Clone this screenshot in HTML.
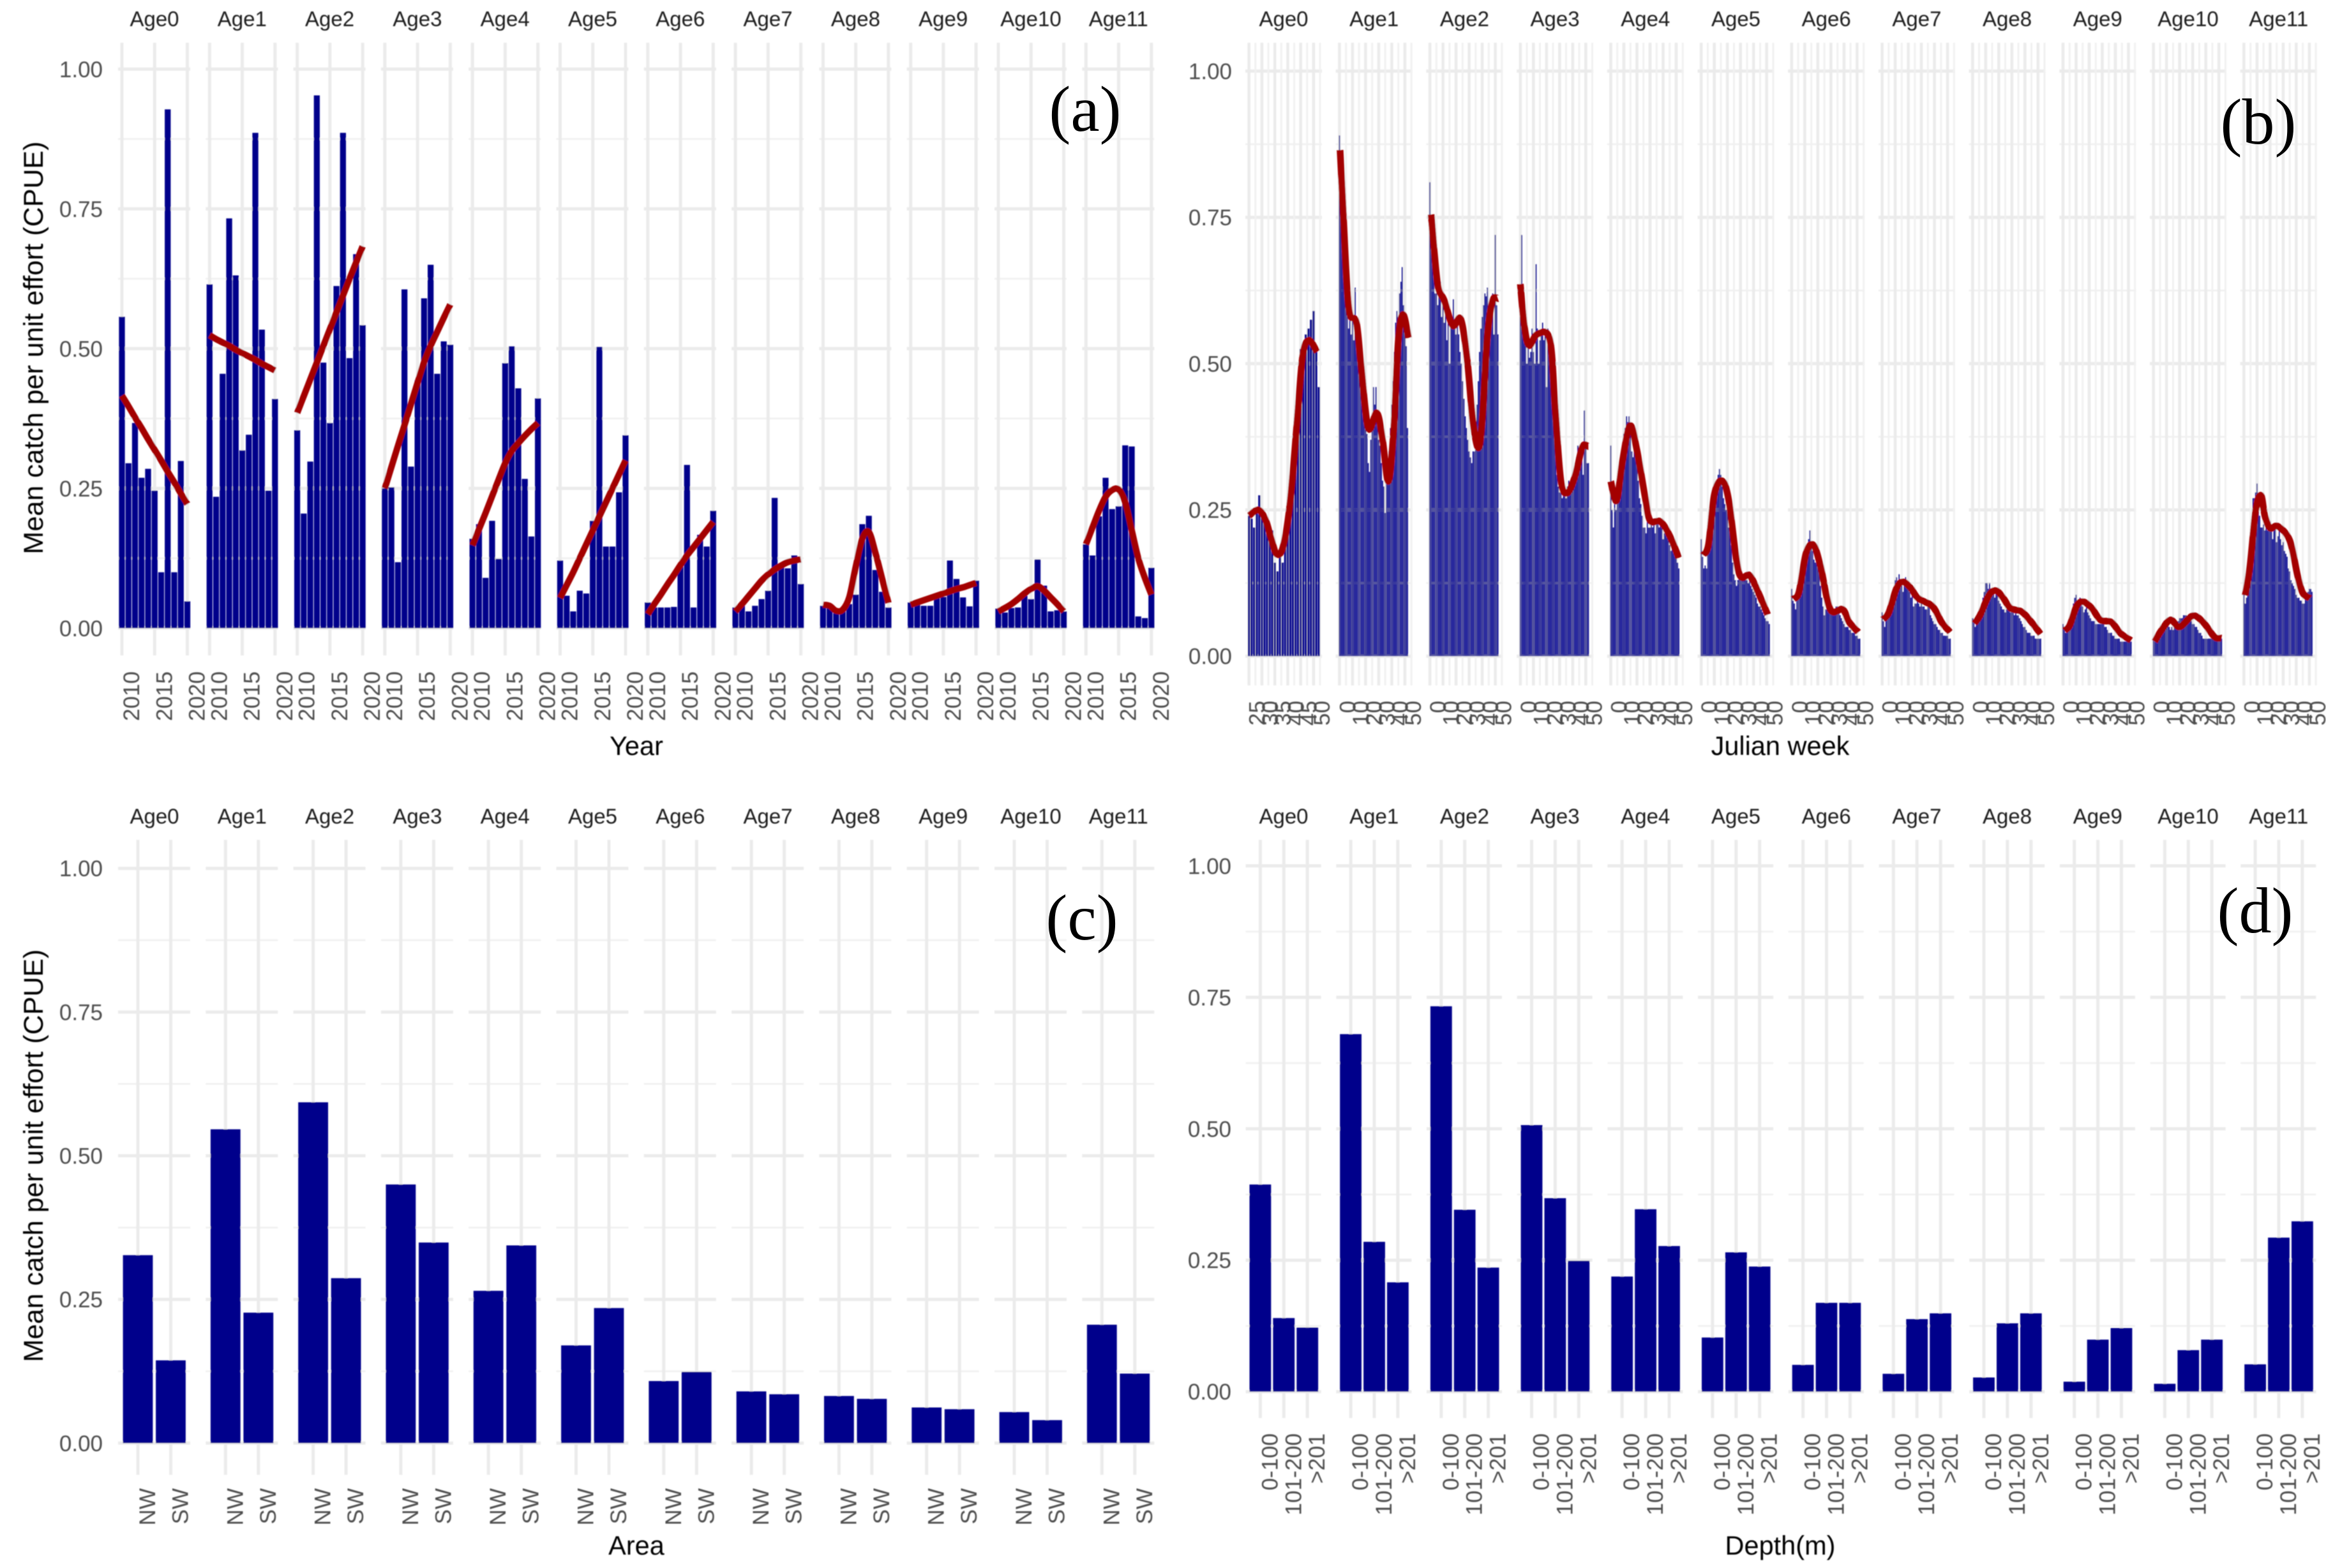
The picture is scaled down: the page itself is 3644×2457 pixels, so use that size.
<!DOCTYPE html>
<html lang="en">
<head>
<meta charset="utf-8">
<title>Mean CPUE by age across year, Julian week, area and depth</title>
<style>
html,body{margin:0;padding:0;background:#fff;width:3644px;height:2457px;overflow:hidden}
svg{display:block;font-family:"Liberation Sans",Arial,sans-serif}
.title{font-size:41.5px;fill:#000;text-anchor:middle}
.ytitle{font-size:43px;fill:#000;text-anchor:middle}
.tag{font-family:"Liberation Serif","Times New Roman",serif;font-size:102px;fill:#000;text-anchor:middle}
</style>
</head>
<body>
<svg id="figure" xmlns="http://www.w3.org/2000/svg" width="3644" height="2457" viewBox="0 0 3644 2457">
  <defs>
    <filter id="soft" filterUnits="userSpaceOnUse" x="0" y="0" width="3644" height="2457">
      <feGaussianBlur stdDeviation="0.9"/>
    </filter>
  </defs>
  <rect x="0" y="0" width="3644" height="2457" fill="#fff"/>
  <g filter="url(#soft)">
    <g id="panel-a"></g>
    <g id="panel-b"></g>
    <g id="panel-c"></g>
    <g id="panel-d"></g>
    <text class="ytitle" transform="translate(67,545) rotate(-90)">Mean catch per unit effort (CPUE)</text>
    <text class="ytitle" transform="translate(67,1811) rotate(-90)">Mean catch per unit effort (CPUE)</text>
    <text class="title" x="997" y="1183">Year</text>
    <text class="title" x="2789" y="1183">Julian week</text>
    <text class="title" x="997" y="2436">Area</text>
    <text class="title" x="2789" y="2436">Depth(m)</text>
  </g>
  <text class="tag" x="1700" y="205">(a)</text>
  <text class="tag" x="3538" y="225">(b)</text>
  <text class="tag" x="1695" y="1472">(c)</text>
  <text class="tag" x="3533" y="1461">(d)</text>
</svg>
<script>
const ages = ['Age0','Age1','Age2','Age3','Age4','Age5','Age6','Age7','Age8','Age9','Age10','Age11'];
const yTickValues = [0, 0.25, 0.5, 0.75, 1];
const yTickLabels = ['0.00','0.25','0.50','0.75','1.00'];
const yMinorValues = [0.125, 0.375, 0.625, 0.875];

const yearTicks = [2010, 2015, 2020];
const years = [2010,2011,2012,2013,2014,2015,2016,2017,2018,2019,2020];
const yearCpue = [
  [.557,.295,.367,.269,.285,.246,.100,.928,.100,.299,.048],
  [.615,.235,.455,.733,.631,.318,.346,.886,.534,.246,.410],
  [.354,.205,.298,.953,.475,.367,.612,.886,.483,.669,.542],
  [.250,.252,.118,.606,.289,.443,.590,.650,.455,.513,.507],
  [.160,.186,.090,.192,.124,.474,.504,.429,.267,.164,.411],
  [.121,.058,.030,.067,.062,.192,.503,.146,.146,.243,.345],
  [.046,.037,.037,.037,.038,.110,.292,.037,.167,.146,.210],
  [.037,.045,.030,.040,.052,.067,.233,.112,.107,.130,.079],
  [.040,.043,.027,.030,.043,.060,.186,.201,.104,.065,.037],
  [.046,.042,.040,.040,.054,.056,.121,.088,.055,.039,.085],
  [.035,.028,.036,.037,.058,.052,.123,.076,.030,.032,.030],
  [.150,.130,.200,.269,.213,.218,.327,.325,.021,.018,.108]
];
const yearTrend = [
  [.416,.397,.377,.358,.338,.319,.300,.280,.261,.241,.222],
  [.524,.517,.511,.505,.498,.492,.486,.480,.473,.467,.461],
  [.385,.415,.445,.475,.505,.535,.565,.595,.625,.654,.683],
  [.250,.288,.326,.363,.401,.439,.476,.505,.530,.555,.579],
  [.148,.177,.206,.236,.266,.295,.317,.331,.344,.356,.367],
  [.054,.077,.100,.125,.150,.175,.200,.225,.250,.275,.300],
  [.025,.043,.060,.078,.095,.113,.130,.145,.160,.175,.190],
  [.030,.043,.057,.071,.085,.096,.105,.112,.118,.121,.123],
  [.042,.040,.031,.033,.055,.110,.160,.172,.135,.090,.045],
  [.042,.046,.050,.054,.058,.062,.066,.070,.073,.077,.081],
  [.030,.036,.043,.052,.062,.070,.075,.067,.055,.043,.030],
  [.150,.180,.210,.235,.247,.248,.225,.175,.125,.090,.060]
];

const weekTickLabelsAge0 = ['25','30','35','40','45','50'];
const weekTickLabels = ['0','10','20','30','40','50'];
const weekCpue = [
  [.24,.235,.22,.255,.275,.24,.23,.21,.205,.215,.16,.145,.17,.16,.19,.23,.27,.31,.37,.45,.525,.53,.55,.56,.575,.59,.52,.46],
  [.89,.80,.76,.72,.68,.65,.60,.56,.59,.55,.58,.54,.63,.56,.57,.52,.50,.49,.46,.43,.40,.38,.33,.315,.37,.40,.46,.43,.46,.40,.37,.36,.33,.30,.29,.245,.30,.31,.35,.39,.43,.47,.52,.57,.59,.58,.62,.64,.665,.60,.58,.53,.39],
  [.81,.73,.69,.65,.62,.62,.60,.62,.64,.58,.60,.57,.59,.54,.59,.50,.57,.58,.61,.56,.55,.57,.55,.52,.50,.47,.44,.41,.39,.37,.35,.34,.33,.35,.35,.38,.43,.47,.52,.56,.58,.60,.62,.615,.63,.60,.61,.59,.62,.55,.72,.60,.55],
  [.58,.72,.60,.57,.55,.50,.53,.51,.52,.56,.52,.50,.67,.56,.50,.54,.55,.57,.54,.56,.46,.56,.53,.50,.47,.43,.39,.35,.31,.29,.28,.28,.27,.28,.28,.27,.29,.30,.29,.30,.31,.32,.33,.34,.36,.35,.36,.35,.31,.42,.36,.33,.33],
  [.36,.25,.22,.26,.25,.27,.30,.33,.34,.36,.38,.39,.41,.40,.41,.38,.35,.34,.36,.35,.33,.30,.27,.26,.24,.22,.22,.21,.24,.22,.22,.23,.22,.23,.21,.23,.23,.22,.235,.235,.20,.21,.21,.21,.20,.19,.18,.19,.19,.18,.17,.16,.15],
  [.20,.17,.15,.155,.15,.18,.19,.20,.22,.25,.27,.28,.29,.31,.32,.31,.29,.27,.26,.25,.28,.22,.23,.19,.16,.14,.13,.12,.13,.14,.145,.14,.14,.135,.13,.13,.125,.13,.12,.115,.11,.105,.10,.09,.085,.085,.08,.075,.07,.065,.06,.06,.055],
  [.115,.095,.09,.08,.10,.10,.105,.12,.14,.15,.165,.175,.18,.20,.215,.19,.18,.165,.16,.17,.185,.145,.12,.10,.085,.07,.08,.08,.08,.08,.08,.08,.075,.08,.085,.085,.08,.07,.065,.06,.055,.05,.05,.05,.045,.045,.04,.04,.04,.035,.035,.03,.03],
  [.075,.06,.05,.07,.07,.08,.09,.10,.11,.115,.13,.135,.12,.14,.13,.12,.11,.13,.135,.12,.115,.11,.10,.105,.085,.09,.09,.095,.09,.085,.09,.085,.085,.08,.08,.085,.085,.07,.065,.06,.055,.055,.05,.045,.045,.04,.04,.035,.035,.035,.035,.03,.03],
  [.065,.06,.05,.055,.06,.07,.075,.09,.10,.11,.125,.125,.115,.125,.11,.11,.115,.10,.11,.105,.095,.09,.085,.08,.08,.075,.08,.08,.08,.075,.075,.08,.07,.075,.07,.07,.065,.06,.055,.05,.05,.045,.04,.04,.04,.035,.035,.035,.03,.03,.03,.03,.03],
  [.055,.05,.04,.045,.05,.06,.07,.08,.09,.10,.105,.095,.09,.10,.09,.085,.075,.08,.085,.075,.07,.065,.06,.06,.06,.055,.055,.055,.055,.055,.055,.055,.05,.05,.045,.04,.04,.04,.035,.035,.03,.03,.03,.03,.025,.025,.025,.025,.025,.025,.025,.025,.025],
  [.03,.025,.025,.03,.035,.04,.05,.055,.06,.06,.06,.055,.05,.045,.05,.045,.05,.055,.055,.06,.065,.065,.065,.07,.07,.07,.065,.065,.06,.06,.055,.055,.05,.05,.045,.04,.04,.035,.03,.03,.03,.03,.03,.03,.03,.03,.03,.03,.03,.03,.03,.03,.03],
  [.115,.09,.10,.13,.16,.19,.23,.27,.27,.28,.295,.26,.24,.22,.22,.225,.215,.23,.215,.22,.23,.215,.20,.22,.22,.195,.205,.215,.20,.19,.195,.18,.175,.17,.15,.145,.13,.125,.12,.115,.105,.10,.10,.095,.095,.09,.09,.10,.105,.11,.115,.115,.11]
];
const weekTrendWeeks = [
  [25,28.7,31.5,33.5,35.8,38.3,41,43.8,45.8,48.2,51.3],
  [0.5,3,5.5,8,13,16.5,22,28.6,33,37.5,41.7,45,48.6,52.8],
  [1,3.6,6.4,11,17.5,23.6,28.6,32.8,37,40,44,48,52],
  [0,3,6.7,12.8,22.5,26.7,31,36,42,47.5,52],
  [0,4.4,9,14.7,20,26,30,38,45,52],
  [1.3,5.5,10,15.7,21,28.6,37,43.6,50.8],
  [1,5.5,11,16.6,22,29.5,39,44,51],
  [0.5,5,11,16,22,27.5,38.6,45.5,52],
  [1.4,5.5,12.5,18,23.6,29,37.5,44,52],
  [1,5,10.5,15.5,22,28.6,37,44,52],
  [1,6,13,20,30,38,46.6,52],
  [1,4.7,9,13,16,20,26,35,41,45,50.5]
];
const weekTrendValues = [
  [.24,.25,.232,.202,.174,.189,.266,.411,.514,.54,.52],
  [.865,.754,.642,.584,.57,.497,.39,.416,.369,.299,.394,.54,.584,.544],
  [.755,.685,.63,.608,.565,.576,.505,.403,.356,.403,.548,.608,.611],
  [.636,.565,.531,.55,.541,.42,.30,.279,.309,.358,.358],
  [.299,.266,.334,.394,.352,.275,.232,.23,.206,.168],
  [.173,.19,.276,.30,.267,.144,.138,.109,.071],
  [.098,.109,.176,.19,.154,.08,.08,.058,.041],
  [.063,.074,.116,.127,.116,.099,.085,.058,.041],
  [.056,.069,.104,.112,.099,.082,.076,.061,.038],
  [.044,.052,.086,.093,.082,.062,.058,.039,.027],
  [.025,.044,.062,.05,.069,.058,.033,.031],
  [.104,.155,.249,.275,.24,.219,.222,.198,.138,.108,.099]
];

const areaLabels = ['NW','SW'];
const areaNW = [.327,.546,.593,.450,.265,.170,.108,.090,.082,.062,.054,.206];
const areaSW = [.144,.227,.287,.349,.344,.235,.124,.085,.077,.059,.040,.121];

const depthLabels = ['0-100','101-200','>201'];
const depthShallow = [.394,.680,.733,.507,.219,.103,.051,.034,.027,.019,.015,.052];
const depthMiddle = [.140,.285,.346,.368,.347,.265,.169,.138,.130,.099,.079,.293];
const depthDeep = [.122,.208,.236,.249,.277,.238,.169,.149,.149,.121,.099,.324];

const SVGNS = 'http://www.w3.org/2000/svg';
const BAR = '#00008b', LINE = '#a30000', GRID = '#ebebeb', GRIDMINOR = '#f1f1f1', TICKTXT = '#4d4d4d', STRIPTXT = '#1a1a1a';
const TICKSIZE = 35, STRIPSIZE = 33;

function mk(parent, tag, attrs, text) {
  const el = document.createElementNS(SVGNS, tag);
  for (const k in attrs) el.setAttribute(k, attrs[k]);
  if (text !== undefined) el.textContent = text;
  parent.appendChild(el);
  return el;
}
function catmull(pts) {
  let d = 'M' + pts[0][0].toFixed(2) + ' ' + pts[0][1].toFixed(2);
  for (let i = 0; i < pts.length - 1; i++) {
    const p0 = pts[Math.max(i - 1, 0)], p1 = pts[i], p2 = pts[i + 1], p3 = pts[Math.min(i + 2, pts.length - 1)];
    const c1x = p1[0] + (p2[0] - p0[0]) / 6, c1y = p1[1] + (p2[1] - p0[1]) / 6;
    const c2x = p2[0] - (p3[0] - p1[0]) / 6, c2y = p2[1] - (p3[1] - p1[1]) / 6;
    d += 'C' + c1x.toFixed(2) + ' ' + c1y.toFixed(2) + ' ' + c2x.toFixed(2) + ' ' + c2y.toFixed(2) + ' ' + p2[0].toFixed(2) + ' ' + p2[1].toFixed(2);
  }
  return d;
}

function frame(g, cfg) {
  const yScale = v => cfg.y0 - v * (cfg.y0 - cfg.y1);
  yMinorValues.forEach(v => {
    ages.forEach((a, i) => {
      const l = mk(g, 'line', {x1: cfg.hx + i * cfg.step, x2: cfg.hx + cfg.hw + i * cfg.step, y1: yScale(v), y2: yScale(v), stroke: GRIDMINOR, 'stroke-width': 2.8});
      
      
    });
  });
  yTickValues.forEach((v, k) => {
    ages.forEach((a, i) => {
      const l = mk(g, 'line', {x1: cfg.hx + i * cfg.step, x2: cfg.hx + cfg.hw + i * cfg.step, y1: yScale(v), y2: yScale(v), stroke: GRID, 'stroke-width': 5});
      
      
    });
    const t = mk(g, 'text', {x: cfg.ylabelX, y: yScale(v) + 12.5, 'font-size': TICKSIZE, fill: TICKTXT, 'text-anchor': 'end'}, yTickLabels[k]);
    
    
  });
  ages.forEach((a, i) => {
    const t = mk(g, 'text', {x: cfg.stripX + i * cfg.step, y: cfg.stripY, 'font-size': STRIPSIZE, fill: STRIPTXT, 'text-anchor': 'middle'}, a);
    
    
  });
  return yScale;
}
function vgrid(g, x, y1, y2, w, col) {
  const l = mk(g, 'line', {x1: x, x2: x, y1: y1, y2: y2, stroke: col, 'stroke-width': w});
  
  
}
function xTick(g, x, top, str, off) {
  const t = mk(g, 'text', {transform: 'translate(' + (x + off) + ',' + top + ') rotate(-90)', 'font-size': TICKSIZE, fill: TICKTXT, 'text-anchor': 'end'}, str);
  
  
}
function bar(g, cx, w, top, base) {
  const r = mk(g, 'rect', {x: cx - w / 2, y: top, width: w, height: base - top, fill: BAR});
  
  
}
function trend(g, pts, w) {
  const p = mk(g, 'path', {d: catmull(pts), fill: 'none', stroke: LINE, 'stroke-width': w, 'stroke-linejoin': 'round', 'stroke-linecap': 'butt'});
  
  
}

/* Panel (a) */
(function () {
  const g = document.getElementById('panel-a');
  const cfg = {y0: 984.3, y1: 108.3, step: 137.3, hx: 185, hw: 113, ylabelX: 161, stripX: 242, stripY: 41};
  const yS = frame(g, cfg);
  const xS = (i, yr) => 191 + i * cfg.step + (yr - 2010) * 10.25;
  ages.forEach((a, i) => {
    yearTicks.forEach(yr => {
      vgrid(g, xS(i, yr), 67, 1027, 5, GRID);
      xTick(g, xS(i, yr), 1052, String(yr), 27);
    });
  });
  ages.forEach((a, i) => {
    years.forEach((yr, k) => bar(g, xS(i, yr), 9.3, yS(yearCpue[i][k]), yS(0)));
  });
  ages.forEach((a, i) => {
    trend(g, years.map((yr, k) => [xS(i, yr), yS(yearTrend[i][k])]), 10);
  });
})();

/* Panel (b) */
(function () {
  const g = document.getElementById('panel-b');
  const cfg = {y0: 1028.2, y1: 111.4, step: 141.7, hx: 1951, hw: 120, ylabelX: 1930, stripX: 2011, stripY: 41};
  const yS = frame(g, cfg);
  const base = i => 1956.7 + i * cfg.step;
  const xS = (i, wk) => i === 0 ? base(0) + (wk - 25) * 4.05 : base(i) + wk * 2.05;
  ages.forEach((a, i) => {
    for (let s = 0; s < 12; s++) {
      const wk = i === 0 ? 25 + s * 2.5 : s * 5;
      vgrid(g, xS(i, wk), 67, 1074, s % 2 === 0 ? 4.6 : 3, s % 2 === 0 ? GRID : GRIDMINOR);
    }
    const labels = i === 0 ? weekTickLabelsAge0 : weekTickLabels;
    labels.forEach(lab => xTick(g, xS(i, Number(lab)), 1098, lab, 25));
  });
  ages.forEach((a, i) => {
    weekCpue[i].forEach((v, k) => {
      const wk = i === 0 ? 25 + k : k;
      bar(g, xS(i, wk), i === 0 ? 3.4 : 1.72, yS(v), yS(0));
    });
  });
  ages.forEach((a, i) => {
    trend(g, weekTrendWeeks[i].map((wk, k) => [xS(i, wk), yS(weekTrendValues[i][k])]), 10.5);
  });
})();

/* Panel (c) */
(function () {
  const g = document.getElementById('panel-c');
  const cfg = {y0: 2261.3, y1: 1360.7, step: 137.3, hx: 185, hw: 113, ylabelX: 161, stripX: 242, stripY: 1290.5};
  const yS = frame(g, cfg);
  const xS = (i, k) => 216 + i * cfg.step + k * 51.5;
  ages.forEach((a, i) => {
    areaLabels.forEach((lab, k) => {
      vgrid(g, xS(i, k), 1316, 2311, 5, GRID);
      xTick(g, xS(i, k), 2332, lab, 27);
    });
  });
  ages.forEach((a, i) => {
    bar(g, xS(i, 0), 46.8, yS(areaNW[i]), yS(0));
    bar(g, xS(i, 1), 46.8, yS(areaSW[i]), yS(0));
  });
})();

/* Panel (d) */
(function () {
  const g = document.getElementById('panel-d');
  const cfg = {y0: 2180.7, y1: 1356.8, step: 141.7, hx: 1951.6, hw: 118, ylabelX: 1929, stripX: 2011, stripY: 1290.5};
  const yS = frame(g, cfg);
  const xS = (i, k) => 1974.4 + i * cfg.step + k * 36.9;
  ages.forEach((a, i) => {
    depthLabels.forEach((lab, k) => {
      vgrid(g, xS(i, k), 1316, 2222, 5, GRID);
      xTick(g, xS(i, k), 2246, lab, 27);
    });
  });
  ages.forEach((a, i) => {
    bar(g, xS(i, 0), 33.8, yS(depthShallow[i]), yS(0));
    bar(g, xS(i, 1), 33.8, yS(depthMiddle[i]), yS(0));
    bar(g, xS(i, 2), 33.8, yS(depthDeep[i]), yS(0));
  });
})();
</script>
</body>
</html>
